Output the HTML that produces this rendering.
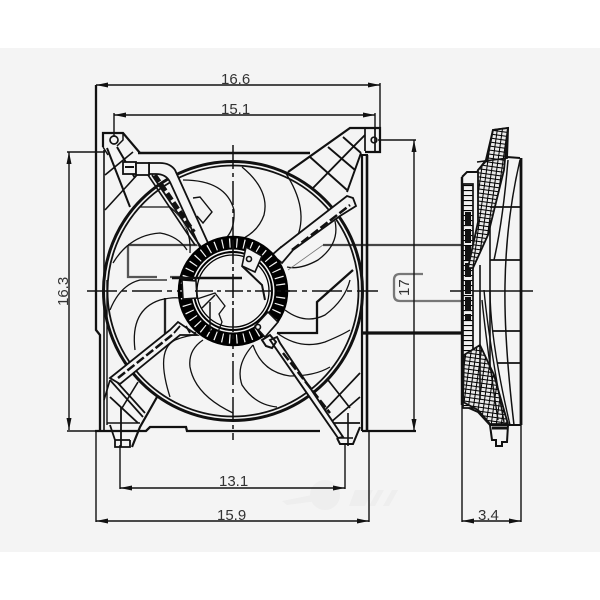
<!DOCTYPE html>
<html><head><meta charset="utf-8"><style>
html,body{margin:0;padding:0;background:#fff}
svg{display:block;filter:blur(.3px)}
text{font-family:"Liberation Sans",sans-serif;font-size:15px;fill:#333}
</style></head><body>
<svg width="600" height="600" viewBox="0 0 600 600" xmlns="http://www.w3.org/2000/svg">
<defs>
<pattern id="h" width="5" height="4" patternUnits="userSpaceOnUse" patternTransform="rotate(8)">
<rect width="5" height="4" fill="#e8e8e8"/>
<path d="M0 0H5M0 0V4" stroke="#000" stroke-width="2"/>
</pattern>
<pattern id="k" width="6" height="5" patternUnits="userSpaceOnUse">
<rect width="6" height="5" fill="#f0f0f0"/>
<path d="M0 0H6" stroke="#000" stroke-width="2.200"/>
</pattern>
</defs>
<rect width="600" height="600" fill="#fff"/>
<rect y="48" width="600" height="504" fill="#f4f4f4"/>
<!-- watermark -->
<g fill="#eee"><circle cx="325" cy="495" r="15"/><path d="M282 501l50-10 0 8-45 6zM355 490h18l-8 16h-16zM378 490h6l-9 16h-6zM392 490h6l-9 16h-6z"/></g>

<!-- ghost logo lines -->
<g fill="none" stroke="#444" stroke-width="2.300">
<path d="M128 245H230M323 245H462"/>
<path d="M128 245V277H157M170 277H242" stroke="#555"/>
<path d="M165 298V333H196" stroke="#222"/>
<path d="M277 333H317V302L353 270" stroke="#111"/>
<path d="M362 333H462" stroke-width="3.200" stroke="#111"/>
<path d="M423 274H400Q394 274 394 280V295Q394 301 400 301H462" stroke="#777"/>
</g>

<!-- dimensions -->
<g fill="none" stroke="#111" stroke-width="1.400">
<path d="M380 83V132M114 113V136M375 113V130"/>
<path d="M96 85H380M114 115H375"/>
<path d="M67 152H105M67 431H100M69 152V430"/>
<path d="M378 140H416M414 140V431M370 431H416"/>
<path d="M120 445V489M345 445V489M120 488H345"/>
<path d="M96 431V522M369 431V522M96 521H369"/>
<path d="M462 405V522M521 425V522M462 521H521"/>
</g>
<g fill="#111">
<path d="M96 85l12-2.500v5zM380 85l-12-2.500v5zM114 115l12-2.500v5zM375 115l-12-2.500v5z"/>
<path d="M69 152l-2.500 12h5zM69 430l-2.500-12h5zM414 140l-2.500 12h5zM414 431l-2.500-12h5z"/>
<path d="M120 488l12-2.500v5zM345 488l-12-2.500v5zM96 521l12-2.500v5zM369 521l-12-2.500v5zM462 521l12-2.500v5zM521 521l-12-2.500v5z"/>
</g>
<text x="221" y="84">16.6</text>
<text x="221" y="114">15.1</text>
<text x="219" y="486">13.1</text>
<text x="217" y="520">15.9</text>
<text x="478" y="520">3.4</text>
<text transform="translate(68,306) rotate(-90)">16.3</text>
<text transform="translate(409,296) rotate(-90)">17</text>

<!-- center lines -->
<g fill="none" stroke="#111" stroke-width="1.500">
<path d="M233 145V440" stroke-dasharray="24 4 4 4"/>
<path d="M87 291H378" stroke-dasharray="30 5 5 5"/>
<path d="M450 291H533"/>
</g>

<!-- frame -->
<g fill="none" stroke="#111">
<path d="M138 153H310" stroke-width="2.500"/>
<path d="M96 85V330L100 335V431" stroke-width="2.300"/>
<path d="M104 150V430" stroke-width="1.600"/>
<path d="M107 280V425" stroke-width="1.400"/>
<path d="M95 431H146L150 427H186L187 431H320" stroke-width="2.300"/>
<path d="M362 431H416" stroke-width="2.300"/>
<path d="M362 155V431" stroke-width="2.200"/>
<path d="M367 155V432" stroke-width="2.600"/>
<path d="M360 155H368" stroke-width="2"/>
</g>

<!-- corner brackets -->
<g fill="none" stroke="#111" stroke-width="1.700">
<!-- top-left -->
<path d="M103 147V133H123L140 153" stroke-width="2.200"/>
<path d="M103 147L108 155M123 133V140L117 146" stroke-width="1.500"/>
<circle cx="114" cy="140" r="4"/>
<path d="M107 148L130 207M117 147L135 178" stroke-width="2"/>
<path d="M105 175L133 152M105 210L137 175" stroke-width="1.600"/>
<!-- top-right -->
<path d="M288 172L350 128H380V152H365" stroke-width="2.200"/>
<path d="M375 128V152M365 128V151"/>
<circle cx="374" cy="140" r="2.800"/>
<path d="M310 157L347 190M328 147L355 170M343 137L361 153" stroke-width="1.900"/>
<path d="M313 188L357 143L365 135M361 153L347 192" stroke-width="1.900"/>
<!-- lower-left -->
<path d="M110 380L143 417M117 382L145 413M110 397L138 423" stroke-width="1.800"/>
<path d="M138 382L122 408" stroke-width="1.600"/>
<path d="M157 397L140 427L132 447" stroke-width="2.200"/>
<path d="M110 380L104 400M107 423H140" stroke-width="1.600"/>
<path d="M110 425L115 440H130M115 440V447H130V440M121 407V447" stroke-width="1.800"/>
<!-- lower-right -->
<path d="M328 380L350 408M312 393L325 410M325 410L360 373M330 423L360 397M330 423H360" stroke-width="1.700"/>
<path d="M337 438L340 444H353L360 427" stroke-width="2"/>
<path d="M348 413V446M337 438H353" stroke-width="1.600"/>
</g>

<!-- fan ring -->
<g fill="none" stroke="#111">
<circle cx="233" cy="291" r="129.500" stroke-width="3"/>
<circle cx="233" cy="291" r="125.500" stroke-width="1.800"/>
</g>

<!-- blades -->
<g fill="none" stroke="#111" stroke-width="1.300">
<path d="M242 167Q270 190 264 215Q258 232 240 240"/>
<path d="M285 172Q310 210 296 240Q290 247 280 247"/>
<path d="M335 221Q340 244 318 260Q300 270 287 267"/>
<path d="M183 180Q226 180 234 210Q235 228 227 237"/>
<path d="M140 207H170Q192 225 190 253"/>
<path d="M113 263Q130 235 160 233Q178 236 187 250"/>
<path d="M110 310Q120 285 140 280Q155 280 167 280"/>
<path d="M135 350Q130 310 160 300Q172 297 180 298"/>
<path d="M170 397Q155 350 175 340Q188 335 197 335"/>
<path d="M233 413Q195 395 190 367Q188 350 203 340"/>
<path d="M253 345Q235 365 242 385Q255 405 277 407"/>
<path d="M253 345Q262 372 290 376Q315 376 330 367"/>
<path d="M277 333Q300 350 325 342Q342 335 350 330"/>
<path d="M285 310Q305 325 325 315Q345 300 350 280"/>
<path d="M288 270L323 245" stroke-width=".8" stroke="#777"/>
</g>

<!-- struts -->
<g fill="none" stroke="#111">
<!-- UL strut + tube -->
<path d="M152 175L196 240L208 256L213 254L175 170Q170 163 160 163H149V174H156Q166 174 170 182L203 254" stroke-width="1.800" fill="#f4f4f4"/>
<rect x="123" y="162" width="13" height="12" fill="#f4f4f4" stroke-width="1.800"/>
<path d="M125 167H134" stroke-width="2"/>
<rect x="136" y="163" width="13" height="12" fill="#f4f4f4" stroke-width="1.800"/>
<path d="M148 175L195 245" stroke-width="1.600"/>
<path d="M155 175L194 232" stroke-width="4" stroke-dasharray="8 3"/>
<path d="M193 198L200 197L212 212L203 223L197 216" fill="#f4f4f4" stroke-width="1.400"/>
<!-- UR strut -->
<path d="M280 248L347 196L353 198L356 206L340 216L293 250L282 263L272 255Z" fill="#f4f4f4" stroke-width="1.800"/>
<path d="M292 250L350 205" stroke-width="2.500" stroke-dasharray="9 3"/>
<!-- LL strut -->
<path d="M110 378L170 330L178 322L197 335H180L120 384Z" fill="#f4f4f4" stroke-width="1.800"/>
<path d="M118 378L172 335" stroke-width="2.500" stroke-dasharray="9 3"/>
<path d="M180 326L174 333M186 326L190 333" stroke-width="1.800"/>
<!-- LR strut -->
<path d="M270 340L338 438L343 437L280 343L277 337Z" fill="#f4f4f4" stroke-width="1.900"/>
<path d="M283 353L330 413" stroke-width="2.500" stroke-dasharray="9 3"/>
<path d="M262 340L270 335L276 342L272 348L266 346Z" stroke-width="2"/>
</g>

<!-- hub -->
<circle cx="233" cy="291" r="54" fill="#f4f4f4" stroke="#000" stroke-width="2.500"/>
<g fill="none" stroke="#000">
<circle cx="233" cy="291" r="48" stroke-width="11" stroke-dasharray="6 1.200"/>
<circle cx="233" cy="291" r="42.500" stroke-width="2"/>
<circle cx="233" cy="291" r="39" stroke-width="2"/>
<circle cx="233" cy="291" r="36" stroke-width="1.300"/>
</g>
<g fill="#f4f4f4" stroke="#111" stroke-width="1.600">
<path d="M246 247L262 256L255 272L242 266Z"/>
<circle cx="249" cy="259" r="2.500"/>
<path d="M255 326L268 312L278 322L265 337Z"/>
<circle cx="258" cy="327" r="2.500"/>
<path d="M182 280L196 281L197 298L183 299Z"/>
</g>
<g fill="none" stroke="#111" stroke-width="1.500">
<path d="M172 278H242" stroke-width="2.500"/>
<path d="M242 266L262 285L265 300" stroke-width="2"/>
<path d="M197 299L215 293L225 306L219 314L222 322L218 332" stroke-width="1.300"/>
<path d="M210 302V332M202 308L215 295"/>
<path d="M233 240V340" stroke-width="1.600" stroke-dasharray="24 3 4 3"/>
<path d="M195 291H290" stroke-width="1.500" stroke-dasharray="18 4 4 4"/>
</g>

<!-- side view -->
<g fill="none" stroke="#111">
<path d="M462 177V405" stroke-width="2.400"/>
<path d="M462 177L467 172H477L486 160L493 130L508 128L507 157L520 158" stroke-width="2"/>
<path d="M521 158V425" stroke-width="2.800"/>
<path d="M462 405L478 412L490 425H521" stroke-width="2"/>
<path d="M463 184H473V408H463Z" fill="url(#k)" stroke-width="1.700"/>
<path d="M468 212V320" stroke-width="6" stroke-dasharray="14 3"/>
<path d="M493 130L508 128L504 170L488 235L473 268L468 268L478 222L478 170L487 160Z" fill="url(#h)" stroke-width="1.800"/>
<path d="M464 355L480 345L494 375L508 424H490L478 410L463 402Z" fill="url(#h)" stroke-width="1.800"/>
<!-- curved shells -->
<path d="M508 160Q503 220 494 260" stroke-width="1.500"/>
<path d="M520 160Q506 220 505 285Q504 340 514 425" stroke-width="1.500"/>
<path d="M490 220V370" stroke-width="1.600"/>
<path d="M490 290Q490 340 510 425" stroke-width="1.400"/>
<path d="M480 265V400" stroke-width="1.600"/>
<path d="M482 300Q486 340 498 420" stroke-width="1.400"/>
<path d="M484 290Q488 335 504 422" stroke-width="1.400"/>
<path d="M490 207H521M490 260H521M493 331H520M497 363H520" stroke-width="1.800"/>
<path d="M477 162L508 158" stroke-width="1.500"/>
<path d="M490 425L492 440H496V446H502V442H507L508 425" stroke-width="2"/>
<path d="M492 428H508" stroke-width="3"/>
</g>
</svg>
</body></html>
